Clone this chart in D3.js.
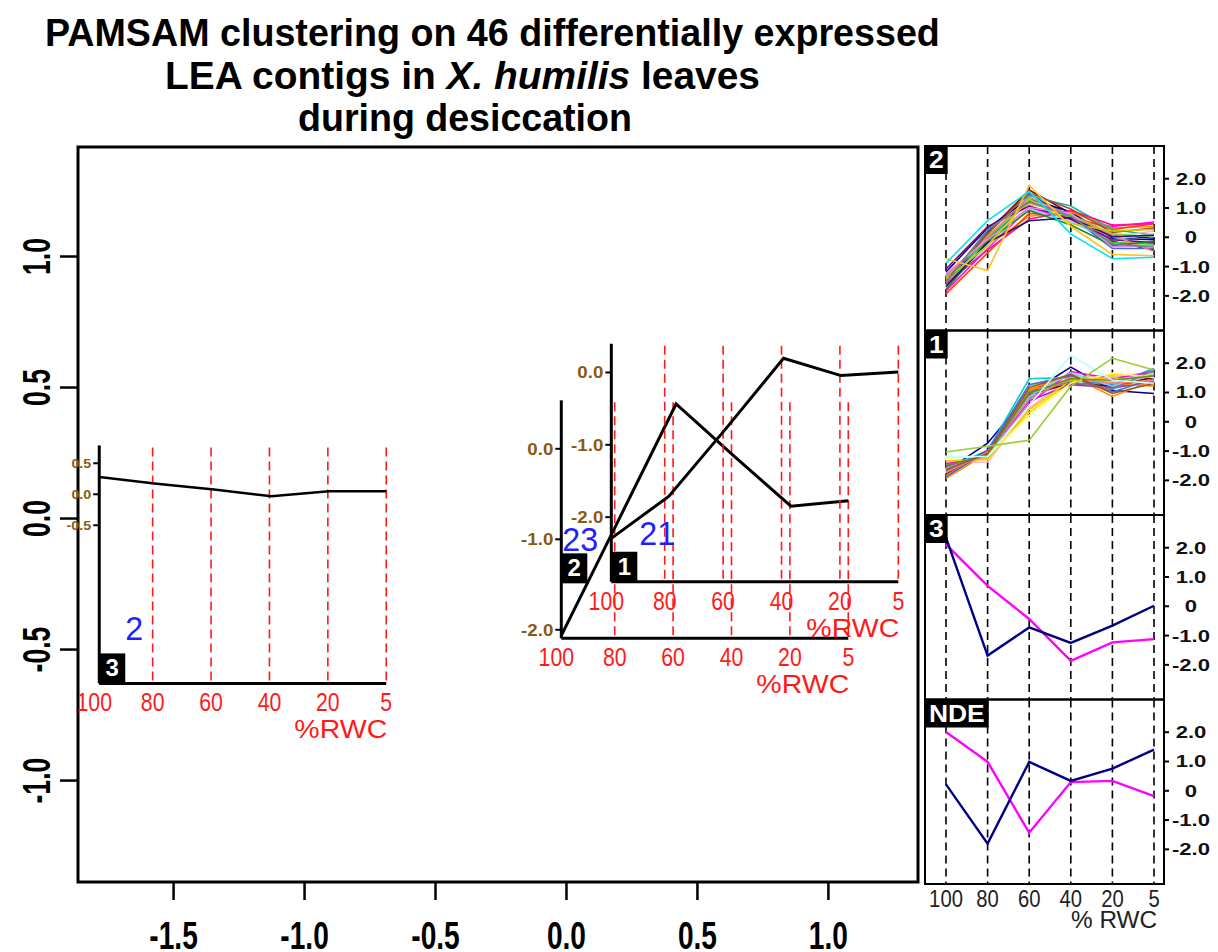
<!DOCTYPE html>
<html>
<head>
<meta charset="utf-8">
<script src="https://cdn.jsdelivr.net/npm/d3@7"></script>
<style>
  body { margin: 0; background: #fff; }
  svg { display: block; }
</style>
</head>
<body>
<div id="chart"></div>
<script>
// ---- data ----
const rwc = ["100", "80", "60", "40", "20", "5"];
const xTicks = [-1.5, -1.0, -0.5, 0.0, 0.5, 1.0];
const yTicks = [-1.0, -0.5, 0.0, 0.5, 1.0];

// cluster insets (centre of each inset in the 2-D map)
const clusterIds = ["1", "2", "3"];
const clusterSizes = [21, 23, 2];
const clusterX = [0.721, 0.530, -1.234];
const clusterY = [0.211, -0.005, -0.177];

const medoid1 = [-2.30, -1.72, -0.78, 0.19, -0.05, 0.00];
const medoid2 = [-2.07, -0.79, 0.49, -0.08, -0.64, -0.58];
const medoid3 = [0.27, 0.16, 0.07, -0.04, 0.04, 0.04];
const medoidRange1 = [-2.9, 0.39];
const medoidRange2 = [-2.1, 0.53];
const medoidRange3 = [-3.06, 0.78];
const medoidTicks1 = [0, -1, -2];
const medoidTicks2 = [0, -1, -2];
const medoidTicks3 = [0.5, 0, -0.5];

// right hand panels
const panelTicks = [2, 1, 0, -1, -2];
const panelTickLabels = ["2.0", "1.0", "0", "-1.0", "-2.0"];

const cluster2Profiles = [
  [-1.50, -0.10, 1.20, 0.75, 0.05, -0.05],
  [-1.45, 0.15, 1.60, 0.80, -0.15, -0.45],
  [-1.85, -0.40, 1.00, 0.60, 0.35, 0.50],
  [-1.60, 0.20, 1.45, 0.70, -0.40, -0.40],
  [-1.20, 0.30, 1.30, 0.85, -0.05, -0.10],
  [-1.70, -0.30, 0.70, 0.85, 0.30, 0.35],
  [-1.95, -0.55, 0.80, 0.70, 0.25, 0.45],
  [-1.30, -0.20, 1.40, 1.05, 0.25, 0.05],
  [-1.55, -0.35, 1.10, 0.55, 0.00, 0.20],
  [-1.65, -0.05, 1.25, 0.65, -0.20, -0.25],
  [-1.40, 0.05, 1.15, 0.75, 0.10, 0.00],
  [-1.75, -0.25, 0.95, 0.50, -0.10, 0.10],
  [-1.10, 0.35, 1.05, 0.60, -0.10, -0.20],
  [-1.60, -0.45, 0.60, 0.90, 0.40, 0.45],
  [-1.35, 0.00, 1.35, 0.70, 0.05, -0.50],
  [-1.80, -0.15, 0.90, 0.40, -0.30, -0.15],
  [-1.50, 0.10, 1.50, 0.95, 0.15, 0.30],
  [-1.25, -0.10, 1.00, 0.80, -0.35, -0.30],
  [-1.70, -0.20, 0.55, 0.65, 0.00, 0.05],
  [-1.45, -0.30, 1.30, 0.45, 0.20, 0.25],
  [-1.55, 0.25, 1.20, 0.70, -0.25, -0.35],
  [-0.75, -1.15, 1.75, 0.35, -0.60, -0.65],
  [-0.90, 0.55, 1.55, 0.10, -0.75, -0.70]
];
const cluster2Colors = ["#0000ff", "#8b0000", "#ff00ff", "#4169e1", "#000080", "#ff8c00", "#ff4500",
  "#20b2aa", "#ffb6c1", "#32cd32", "#9acd32", "#87cefa", "#800080", "#ff1493", "#fa8072", "#228b22",
  "#a0522d", "#ee82ee", "#191970", "#cdcd00", "#708090", "#ffc125", "#00e5ee"];

const cluster1Profiles = [
  [-1.70, -0.75, 0.95, 1.85, 1.05, 0.95],
  [-1.60, -1.00, 1.45, 1.50, 1.10, 1.55],
  [-1.95, -1.10, 1.10, 1.55, 0.85, 1.40],
  [-1.75, -1.05, 0.80, 1.40, 1.25, 1.80],
  [-1.50, -1.25, 0.30, 1.35, 1.60, 1.60],
  [-1.40, -1.40, 0.45, 1.50, 1.55, 1.45],
  [-1.80, -1.00, 0.90, 1.30, 1.20, 1.50],
  [-1.65, -1.15, 1.20, 1.60, 1.35, 1.65],
  [-1.55, -1.10, 0.70, 1.25, 1.15, 1.35],
  [-1.85, -1.05, 1.05, 1.45, 1.30, 1.20],
  [-1.45, -1.20, 0.60, 1.70, 1.45, 1.70],
  [-1.90, -1.00, 1.25, 1.55, 1.00, 1.45],
  [-1.35, -1.30, 0.40, 1.40, 1.50, 1.25],
  [-1.60, -1.15, 0.85, 1.65, 1.20, 1.60],
  [-1.70, -1.10, 1.00, 1.35, 1.10, 1.75],
  [-1.25, -1.20, 0.20, 1.30, 1.65, 1.50],
  [-1.75, -1.05, 0.75, 1.50, 1.30, 1.40],
  [-1.50, -1.15, 0.95, 1.45, 1.40, 1.55],
  [-1.65, -1.10, 1.15, 1.60, 0.95, 1.30],
  [-1.20, -1.20, 0.55, 2.25, 1.40, 1.30],
  [-1.05, -0.85, -0.65, 1.20, 2.15, 1.75]
];
const cluster1Colors = ["#00008b", "#00ced1", "#ff8c00", "#1e90ff", "#ffd700", "#ffb6c1", "#8b0000",
  "#7fff7f", "#9932cc", "#ff7f00", "#ff00ff", "#4169e1", "#eec900", "#87ceeb", "#808080", "#ffff66",
  "#fa8072", "#6b8e23", "#a0522d", "#bbffff", "#9acd32"];

const cluster3Profiles = [
  [2.10, 0.68, -0.45, -1.88, -1.25, -1.14],
  [2.33, -1.70, -0.74, -1.27, -0.68, 0.00]
];
const ndeProfiles = [
  [1.99, 0.97, -1.45, 0.28, 0.32, -0.20],
  [0.20, -1.82, 0.97, 0.32, 0.74, 1.39]
];

// ---- drawing ----
var FONT = "Liberation Sans, Arial, sans-serif";
var svg = d3.select("#chart").append("svg").attr("width", 1218).attr("height", 952);

function addText(g, str, x, y, o) {
  o = o || {};
  var t = g.append("text")
    .attr("font-family", FONT)
    .attr("font-size", o.size || 20)
    .attr("font-weight", o.bold ? "bold" : "normal")
    .attr("fill", o.color || "#000")
    .attr("text-anchor", o.anchor || "start")
    .text(str);
  var s = o.sx || 1;
  if (o.width) s = o.width / t.node().getComputedTextLength();
  t.attr("transform", "translate(" + x + "," + y + ")" + (o.rot ? " rotate(" + o.rot + ")" : "") + " scale(" + s + ",1)");
  return t;
}

// title
addText(svg, "PAMSAM clustering on 46 differentially expressed", 45, 46, { size: 39, bold: true, width: 895 });
var t2 = svg.append("text").attr("font-family", FONT).attr("font-size", 39).attr("font-weight", "bold");
t2.append("tspan").text("LEA contigs in ");
t2.append("tspan").attr("font-style", "italic").text("X. humilis");
t2.append("tspan").text(" leaves");
t2.attr("transform", "translate(165,89) scale(" + (595 / t2.node().getComputedTextLength()) + ",1)");
addText(svg, "during desiccation", 298, 131, { size: 39, bold: true, width: 334 });

// main plot
var xMain = d3.scaleLinear().domain([-1.863, 1.344]).range([78, 918]);
var yMain = d3.scaleLinear().domain([-1.389, 1.416]).range([882, 147]);

var xAx = svg.append("g").attr("transform", "translate(0,882)")
  .call(d3.axisBottom(xMain).tickValues(xTicks).tickSize(18).tickFormat(d => d.toFixed(1)));
xAx.select(".domain").remove();
xAx.selectAll("line").attr("stroke-width", 2.5);
xAx.selectAll("text")
  .attr("font-family", FONT).attr("font-size", 38).attr("font-weight", "bold").attr("fill", "#000")
  .attr("y", 67).attr("dy", 0).attr("transform", "scale(0.74,1)");

var yAx = svg.append("g").attr("transform", "translate(78,0)")
  .call(d3.axisLeft(yMain).tickValues(yTicks).tickSize(18).tickFormat(d => d.toFixed(1)));
yAx.select(".domain").remove();
yAx.selectAll("line").attr("stroke-width", 2.5);
yAx.selectAll("text")
  .attr("font-family", FONT).attr("font-size", 38).attr("font-weight", "bold").attr("fill", "#000")
  .attr("text-anchor", "middle").attr("x", 0).attr("y", -28).attr("dy", 0)
  .attr("transform", "rotate(-90) scale(0.7,1)");

svg.append("rect").attr("x", 78).attr("y", 147).attr("width", 840).attr("height", 735)
  .attr("fill", "none").attr("stroke", "#000").attr("stroke-width", 3);

// insets: one small profile plot per cluster
var insetW = 287, insetH = 238;
var insets = [
  { id: clusterIds[2], n: clusterSizes[2], cx: clusterX[2], cy: clusterY[2], prof: medoid3, dom: medoidRange3, ticks: medoidTicks3, tickFont: 13, lift: 0, cdx: 26, cdy: -43, lw: 2.5 },
  { id: clusterIds[1], n: clusterSizes[1], cx: clusterX[1], cy: clusterY[1], prof: medoid2, dom: medoidRange2, ticks: medoidTicks2, tickFont: 17, lift: 55, cdx: 1, cdy: -87, lw: 3 },
  { id: clusterIds[0], n: clusterSizes[0], cx: clusterX[0], cy: clusterY[0], prof: medoid1, dom: medoidRange1, ticks: medoidTicks1, tickFont: 17, lift: 0, cdx: 28, cdy: -37, lw: 3 }
];

insets.forEach(function (c) {
  var left = xMain(c.cx) - insetW / 2;
  var top = yMain(c.cy) - insetH / 2;
  var g = svg.append("g").attr("transform", "translate(" + left + "," + top + ")");
  var xl = d3.scalePoint().domain(rwc).range([0, insetW]);
  var xg = d3.scalePoint().domain(rwc).range([-5, insetW]);
  var yl = d3.scaleLinear().domain(c.dom).range([insetH, 0]);

  g.selectAll("line.grid").data(rwc.slice(1)).join("line")
    .attr("x1", d => xg(d)).attr("x2", d => xg(d))
    .attr("y1", 2).attr("y2", insetH)
    .attr("stroke", "#ff1a1a").attr("stroke-width", 1.6).attr("stroke-dasharray", "9,5");

  g.append("path").datum(c.prof)
    .attr("d", d3.line().x((d, i) => xl(rwc[i])).y(d => yl(d)))
    .attr("fill", "none").attr("stroke", "#000").attr("stroke-width", c.lw);

  // axes
  g.append("line").attr("x1", 0).attr("x2", 0).attr("y1", 0).attr("y2", insetH)
    .attr("stroke", "#000").attr("stroke-width", 3);
  g.append("line").attr("x1", 0).attr("x2", insetW).attr("y1", insetH).attr("y2", insetH)
    .attr("stroke", "#000").attr("stroke-width", 3);

  var ax = g.append("g").call(d3.axisLeft(yl).tickValues(c.ticks).tickSize(6).tickFormat(d => d.toFixed(1)));
  ax.select(".domain").remove();
  ax.selectAll("line").attr("stroke-width", 2);
  ax.selectAll("text")
    .attr("font-family", FONT).attr("font-size", c.tickFont).attr("font-weight", "bold")
    .attr("fill", "#8a5a12").attr("x", 0).attr("dy", "0.35em")
    .attr("transform", "translate(-8,0) scale(1.1,1)");

  // red x labels
  rwc.forEach(function (r) {
    addText(g, r, xg(r), insetH + 28, { size: 25, color: "#ff1a1a", anchor: "middle", sx: 0.85 });
  });
  addText(g, "%RWC", insetW + 1, insetH + 55, { size: 25, color: "#ff1a1a", anchor: "end", width: 93 });

  // cluster label box and size
  var by = insetH - c.lift;
  g.append("rect").attr("x", 0).attr("y", by - 30).attr("width", 26).attr("height", 30).attr("fill", "#000");
  addText(g, c.id, 13, by - 7, { size: 24, bold: true, color: "#fff", anchor: "middle" });
  addText(g, String(c.n), c.cdx, insetH + c.cdy, { size: 34, color: "#1f1fff", sx: 0.95 });
});

// right hand profile panels
var panelTop = 146, panelH = 184.5, panelL = 925, panelR = 1164;
var xP = d3.scalePoint().domain(rwc).range([946, 1154]);
var yP = d3.scaleLinear().domain([-3.2, 3.1]).range([panelH, 0]);
var pLine = d3.line().x((d, i) => xP(rwc[i])).y(d => yP(d));

var panels = [
  { name: "2", rows: cluster2Profiles, colors: cluster2Colors, lw: 1.6 },
  { name: "1", rows: cluster1Profiles, colors: cluster1Colors, lw: 1.6 },
  { name: "3", rows: cluster3Profiles, colors: ["#ff00ff", "#000080"], lw: 2.4 },
  { name: "NDE", rows: ndeProfiles, colors: ["#ff00ff", "#000080"], lw: 2.4 }
];

panels.forEach(function (p, i) {
  var g = svg.append("g").attr("transform", "translate(0," + (panelTop + i * panelH) + ")");
  g.selectAll("line.grid").data(rwc).join("line")
    .attr("x1", d => xP(d)).attr("x2", d => xP(d))
    .attr("y1", 0).attr("y2", panelH)
    .attr("stroke", "#000").attr("stroke-width", 1.6).attr("stroke-dasharray", "8,5");
  g.selectAll("path.prof").data(p.rows).join("path")
    .attr("d", pLine)
    .attr("fill", "none")
    .attr("stroke", (d, j) => p.colors[j])
    .attr("stroke-width", p.lw);
  g.append("rect").attr("x", panelL).attr("y", 0).attr("width", panelR - panelL).attr("height", panelH)
    .attr("fill", "none").attr("stroke", "#000").attr("stroke-width", 2);

  var lab = addText(g, p.name, 0, 0, { size: 24, bold: true, color: "#fff", sx: 1.1 });
  var lw = lab.node().getComputedTextLength() * 1.1 + 8;
  lab.remove();
  g.append("rect").attr("x", panelL).attr("y", 0).attr("width", lw).attr("height", 28).attr("fill", "#000");
  addText(g, p.name, panelL + lw / 2, 22, { size: 24, bold: true, color: "#fff", anchor: "middle", sx: 1.1 });

  var ax = g.append("g").attr("transform", "translate(" + panelR + ",0)")
    .call(d3.axisRight(yP).tickValues(panelTicks).tickSize(5).tickFormat((d, j) => panelTickLabels[j]));
  ax.select(".domain").remove();
  ax.selectAll("line").attr("stroke-width", 2);
  ax.selectAll("text")
    .attr("font-family", FONT).attr("font-size", 17).attr("font-weight", "bold").attr("fill", "#111")
    .attr("text-anchor", "middle").attr("x", 0).attr("dy", "0.35em")
    .attr("transform", "translate(27,0) scale(1.3,1)");
});

rwc.forEach(function (r) {
  addText(svg, r, xP(r), 907, { size: 23, color: "#222", anchor: "middle", sx: 0.88 });
});
addText(svg, "% RWC", 1157, 928, { size: 23, color: "#222", anchor: "end", width: 86 });
</script>
</body>
</html>
